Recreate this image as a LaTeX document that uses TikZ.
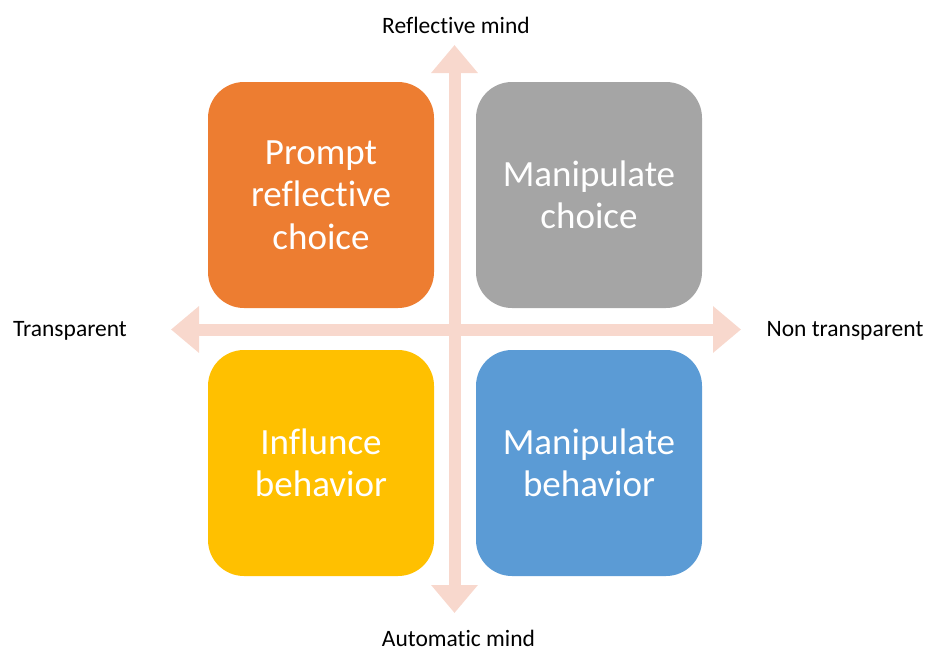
\documentclass[tikz,border=0pt]{standalone}
\usepackage{fontspec}
\setmainfont{Carlito}[Ligatures=NoCommon]
\usetikzlibrary{arrows.meta}
\definecolor{promptcol}{RGB}{237,125,49}
\definecolor{choicecol}{RGB}{165,165,165}
\definecolor{influcol}{RGB}{255,192,0}
\definecolor{behavcol}{RGB}{91,155,213}
\definecolor{axiscol}{RGB}{248,216,205}

\begin{document}
\begin{tikzpicture}[x=1pt,y=-1pt,
		quad/.style={rounded corners=36pt,minimum width=226pt,minimum height=226pt,inner sep=0pt,
			text=white,align=center,font=\fontsize{37}{42.5}\selectfont},
		axis/.style={draw=axiscol,line width=12pt,
			{Triangle[width=45pt,length=28pt]}-{Triangle[width=45pt,length=28pt]}},
		pole/.style={anchor=base,inner sep=0pt,font=\fontsize{23.5}{28}\selectfont}]
		\useasboundingbox (0,0) rectangle (928,651);
		% ends of the two axes
		\coordinate (up) at (454.5,45);
		\coordinate (down) at (454.5,613);
		\coordinate (left) at (171,329.5);
		\coordinate (right) at (741,329.5);
		\draw[axis] (down) -- (up);
		\draw[axis] (left) -- (right);
		% the four quadrants
		\node[quad,fill=promptcol] (prompt) at (321,195) {Prompt\\reflective\\choice};
		\node[quad,fill=choicecol] (manchoice) at (589,195) {Manipulate\\choice};
		\node[quad,fill=influcol] (influence) at (321,463) {Influnce\\behavior};
		\node[quad,fill=behavcol] (manbehav) at (589,463) {Manipulate\\behavior};
		% pole labels
		\node[pole] (reflective) at (456,33) {Reflective mind};
		\node[pole] (automatic) at (458.5,646.5) {Automatic mind};
		\node[pole] (transp) at (70,336) {Transparent};
		\node[pole] (nontransp) at (845,336) {Non transparent};
	\end{tikzpicture}
\end{document}
